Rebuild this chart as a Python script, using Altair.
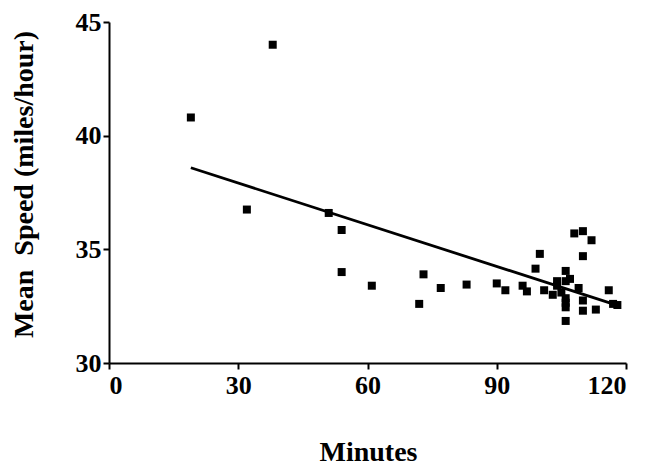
import altair as alt
import pandas as pd

minutes = [19, 32, 38, 51, 54, 54, 61, 72, 73, 77, 83, 90, 92, 96, 97, 99, 100,
           101, 103, 104, 104, 105, 106, 106, 106, 106, 106, 106, 107, 108, 109,
           110, 110, 110, 110, 112, 113, 116, 117, 118]
speed = [40.8, 36.75, 44.0, 36.6, 35.85, 34.0, 33.4, 32.6, 33.9, 33.3, 33.45,
         33.5, 33.2, 33.4, 33.15, 34.15, 34.8, 33.2, 33.0, 33.6, 33.4, 33.1,
         34.05, 33.6, 32.85, 32.65, 32.45, 31.85, 33.7, 35.7, 33.3, 35.8, 34.7,
         32.75, 32.3, 35.4, 32.35, 33.2, 32.6, 32.55]
x_ticks = [0, 30, 60, 90, 120]
y_ticks = [30, 35, 40, 45]

df = pd.DataFrame({"Minutes": minutes, "Speed": speed})

FONT = "Liberation Serif"

x_enc = alt.X("Minutes:Q",
              scale=alt.Scale(domain=[0, 120], nice=False, zero=False),
              axis=alt.Axis(values=x_ticks, title="Minutes", grid=False,
                            titleX=259, titleY=97, titleBaseline="alphabetic",
                            titleAnchor="middle", labelPadding=3))
y_enc = alt.Y("Speed:Q",
              scale=alt.Scale(domain=[30, 45], nice=False, zero=False),
              axis=alt.Axis(values=y_ticks,
                            title="Mean\u00a0 Speed (miles/hour)",
                            grid=False, titleX=-85, titleY=162,
                            titleBaseline="middle", titleAngle=-90,
                            labelPadding=2))

points = alt.Chart(df).mark_square(size=64, color="black", opacity=1).encode(
    x=x_enc, y=y_enc)

line = alt.Chart(df).transform_regression(
    "Minutes", "Speed", method="linear"
).mark_line(color="black", strokeWidth=2.8).encode(
    x=alt.X("Minutes:Q"), y=alt.Y("Speed:Q"))

chart = (points + line).properties(
    width=517, height=341,
    autosize=alt.AutoSizeParams(type="none"),
    padding={"left": 101, "top": 14, "right": 20, "bottom": 102},
).configure_view(stroke=None).configure_axis(
    domainColor="black", domainWidth=2, tickColor="black", tickWidth=2,
    tickSize=6, labelFont=FONT, labelFontSize=26, labelFontWeight="bold",
    labelColor="black", titleFont=FONT, titleFontSize=28,
    titleFontWeight="bold", titleColor="black",
)

chart.save("out.html", embed_options={"renderer": "svg", "actions": False})
